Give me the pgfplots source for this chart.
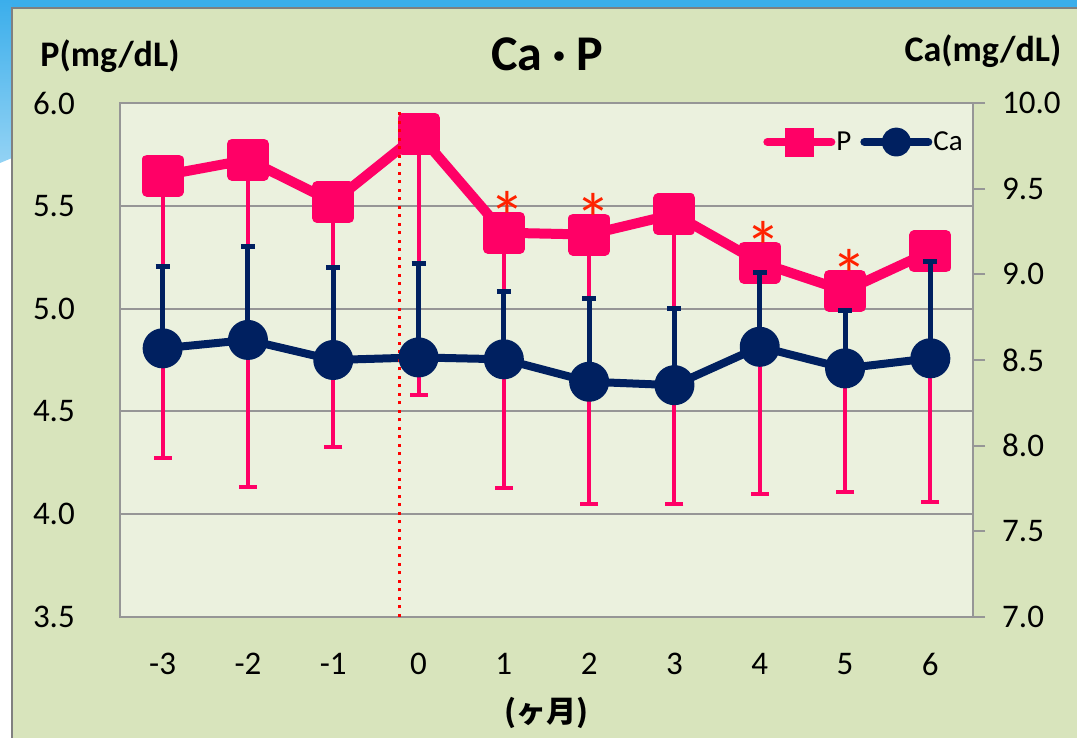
\documentclass[border=0pt]{standalone}
\usepackage{fontspec}
\setmainfont{Carlito}
\newfontfamily\cjk{Noto Sans CJK JP}
\usepackage{pgfplots}
\pgfplotsset{compat=1.18}

\definecolor{pcol}{HTML}{FF0066}
\definecolor{cacol}{HTML}{002060}
\definecolor{chartbg}{HTML}{D8E4BC}
\definecolor{plotbg}{HTML}{EBF1DE}
\definecolor{gridgray}{HTML}{969696}
\definecolor{astred}{HTML}{FF2200}
\definecolor{slideblue}{HTML}{3BAEEB}

\begin{document}
\begin{tikzpicture}[x=1pt,y=1pt]
\useasboundingbox (0,0) rectangle (1077,738);
% slide background and chart frame
\fill[white] (0,0) rectangle (1077,738);
\fill[slideblue] (0,730) rectangle (1077,738);
\shade[top color=slideblue, bottom color=slideblue!55] (0,738) -- (12,738) -- (12,580) -- (0,575) -- cycle;
\fill[chartbg] (12,0) rectangle (1077,730);
\draw[gray, line width=2pt] (12,0) -- (12,730) -- (1077,730);

% titles
\node[anchor=base, inner sep=0pt, font=\fontsize{50}{56}\selectfont\bfseries] at (547,667)
    {Ca\raisebox{1pt}{\cjk\fontsize{34}{34}\selectfont\bfseries ・}P};
\node[anchor=base, inner sep=0pt, font=\fontsize{36}{40}\selectfont\bfseries] at (110,671) {P(mg/dL)};
\node[anchor=base, inner sep=0pt, font=\fontsize{36}{40}\selectfont\bfseries] at (983,676) {Ca(mg/dL)};

% P (left axis)
\begin{axis}[
    at={(120pt,121pt)}, anchor=south west,
    scale only axis, width=853pt, height=514pt,
    xmin=-3.5, xmax=6.5, ymin=3.5, ymax=6.0,
    clip=false,
    axis background/.style={fill=plotbg},
    axis line style={gridgray, line width=2pt},
    xtick={-3,...,6},
    xticklabels={-3,-2,-1,0,1,2,3,4,5,6},
    ytick={3.5,4.0,4.5,5.0,5.5,6.0},
    xtick style={draw=none}, ytick style={draw=none},
    ymajorgrids, major grid style={gridgray, line width=2pt},
    tick label style={font=\fontsize{33}{36}\selectfont},
    yticklabel style={anchor=east, inner sep=0pt, xshift=-45pt,
        /pgf/number format/.cd, fixed, fixed zerofill, precision=1, assume math mode=true},
    xticklabel style={anchor=center, yshift=-47pt},
    xlabel={\cjk\bfseries (ヶ月)},
    xlabel style={at={(axis description cs:0.5,0)}, anchor=center, yshift=-96pt,
        font=\fontsize{30}{34}\selectfont},
]
% P: error bars (minus only), then line and squares
\addplot[pcol, only marks, mark=none,
    error bars/.cd, y dir=minus, y explicit,
    error bar style={line width=4pt, pcol},
    error mark options={rotate=90, pcol, line width=4pt, mark size=9pt}]
coordinates {
    (-3,5.647) -= (0,1.372)
    (-2,5.724) -= (0,1.590)
    (-1,5.518) -= (0,1.193)
    (0,5.851)  -= (0,1.271)
    (1,5.369)  -= (0,1.240)
    (2,5.360)  -= (0,1.310)
    (3,5.459)  -= (0,1.409)
    (4,5.224)  -= (0,1.124)
    (5,5.086)  -= (0,0.978)
    (6,5.278)  -= (0,1.220)
};
\addplot[pcol, line width=10pt, line join=round,
    mark=square*, mark size=16pt, mark options={draw=none, fill=pcol}]
coordinates {
    (-3,5.647) (-2,5.724) (-1,5.518) (0,5.851) (1,5.369)
    (2,5.360) (3,5.459) (4,5.224) (5,5.086) (6,5.278)
};
% significance marks
\addplot[draw=none, mark=none,
    nodes near coords={\textcolor{astred}{*}},
    every node near coord/.append style={anchor=center, inner sep=0pt,
        xshift=4pt, yshift=16pt, font=\fontsize{72}{72}\selectfont}]
coordinates {(1,5.369) (2,5.360) (4,5.224) (5,5.086)};
\end{axis}

% Ca (right axis)
\begin{axis}[
    at={(120pt,121pt)}, anchor=south west,
    scale only axis, width=853pt, height=514pt,
    xmin=-3.5, xmax=6.5, ymin=7, ymax=10,
    clip=false,
    axis x line=none, axis y line*=right,
    axis line style={gridgray, line width=2pt},
    ytick={7.0,7.5,8.0,8.5,9.0,9.5,10.0},
    tick align=outside, major tick length=12pt,
    ytick style={gridgray, line width=2pt},
    tick label style={font=\fontsize{33}{36}\selectfont},
    yticklabel style={anchor=west, inner sep=0pt, xshift=17pt,
        /pgf/number format/.cd, fixed, fixed zerofill, precision=1, assume math mode=true},
    legend style={at={(0.754,0.924)}, anchor=west, draw=none, fill=none,
        inner sep=0pt, font=\fontsize{29}{32}\selectfont,
        nodes={inner sep=0pt},
        /tikz/every odd column/.style={column sep=1pt},
        /tikz/every even column/.style={column sep=9pt}},
    legend columns=2,
    legend image code/.code={\draw[mark repeat=2,mark phase=2,line cap=round,#1]
        plot coordinates {(0pt,0pt) (32pt,0pt) (64pt,0pt)};},
    legend image post style={line width=8pt, mark size=10.5pt},
]
\addlegendimage{pcol, line width=10pt, mark=square*, mark options={draw=none, fill=pcol}}
\addlegendentry{P}
% Ca: error bars (plus only), then line and circles
\addplot[cacol, only marks, mark=none, forget plot,
    error bars/.cd, y dir=plus, y explicit,
    error bar style={line width=5pt, cacol},
    error mark options={rotate=90, cacol, line width=5pt, mark size=7pt}]
coordinates {
    (-3,8.568) += (0,0.480)
    (-2,8.617) += (0,0.548)
    (-1,8.500) += (0,0.539)
    (0,8.515)  += (0,0.549)
    (1,8.504)  += (0,0.398)
    (2,8.373)  += (0,0.487)
    (3,8.353)  += (0,0.447)
    (4,8.577)  += (0,0.435)
    (5,8.451)  += (0,0.339)
    (6,8.510)  += (0,0.564)
};
\addplot[cacol, line width=8pt, line join=round,
    mark=*, mark size=16pt, mark options={draw=none, fill=cacol}]
coordinates {
    (-3,8.568) (-2,8.617) (-1,8.500) (0,8.515) (1,8.504)
    (2,8.373) (3,8.353) (4,8.577) (5,8.451) (6,8.510)
};
\addlegendentry{Ca}
% baseline marker line
\draw[red, line width=3pt, dash pattern=on 3pt off 5.5pt]
    (axis cs:-0.22,7) -- (axis cs:-0.22,9.97);
\end{axis}
\end{tikzpicture}
\end{document}
